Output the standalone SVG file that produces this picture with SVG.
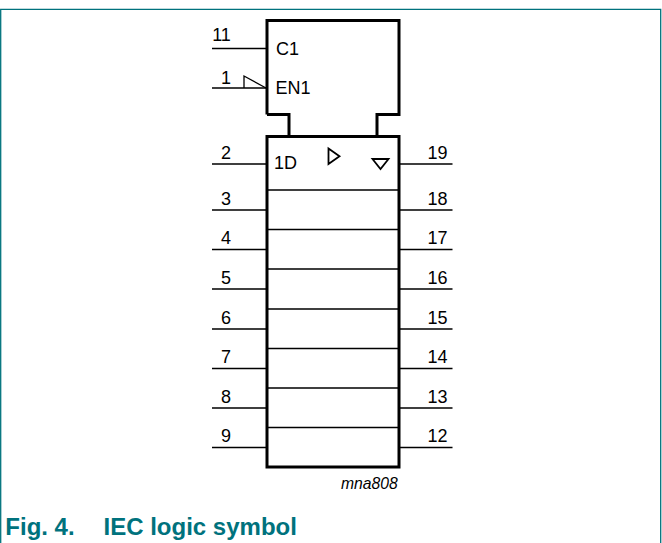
<svg xmlns="http://www.w3.org/2000/svg" width="662" height="543" viewBox="0 0 662 543">
<style>
text{font-family:"Liberation Sans",Arial,sans-serif;fill:#000;font-size:18px}
.b{fill:none;stroke:#000;stroke-width:3}
.t{fill:none;stroke:#000;stroke-width:1.3}
.a{fill:none;stroke:#000;stroke-width:1.8}
.p{stroke:#000;stroke-width:1.3;fill:none}
.w{stroke:#000;stroke-width:1.7;fill:none}
.r{text-anchor:middle}
.c{font-size:24px;font-weight:700;fill:#00727d}
</style>
<rect width="662" height="543" fill="#fff"/>
<path d="M.7 543V9.300H660.700V543" fill="none" stroke="#00727d" stroke-width="1.300"/>
<g id="control-block">
<path class="b" d="M267 114.500V20.500H399V114.500H377V136.500M267 114.500H289V136.500"/>
<text x="276" y="55">C1</text>
<text x="275.500" y="93.500">EN1</text>
<path class="t" d="M244 88V76L266 88"/>
</g>
<g id="register-block">
<rect class="b" x="267" y="136.500" width="132" height="330.500"/>
<path class="w" d="M267 190H399M267 229.500H399M267 269H399M267 309H399M267 348.500H399M267 388H399M267 427.500H399"/>
<text x="274" y="169">1D</text>
<path class="a" d="M328.500 148.500V164L339.500 156.300Z"/>
<path class="a" d="M372.500 159H388.500L380.500 169Z"/>
</g>
<g id="connectors">
<path class="p" d="M212 48.500H267M212 88H267M212 164H267M212 210H267M212 249.500H267M212 289H267M212 329H267M212 368.500H267M212 408H267M212 447.500H267"/>
<path class="p" d="M399 164H452.500M399 210H452.500M399 249.500H452.500M399 289H452.500M399 329H452.500M399 368.500H452.500M399 408H452.500M399 447.500H452.500"/>
</g>
<g id="pin-labels">
<text class="r" x="221.500" y="41">11</text>
<text class="r" x="226" y="84">1</text>
<text class="r" x="226" y="158.500">2</text>
<text class="r" x="226" y="204.500">3</text>
<text class="r" x="226" y="244">4</text>
<text class="r" x="226" y="284">5</text>
<text class="r" x="226" y="323.500">6</text>
<text class="r" x="226" y="363">7</text>
<text class="r" x="226" y="402.500">8</text>
<text class="r" x="226" y="441.700">9</text>
<text class="r" x="437.500" y="159">19</text>
<text class="r" x="437.500" y="205">18</text>
<text class="r" x="437.500" y="244">17</text>
<text class="r" x="437.500" y="284">16</text>
<text class="r" x="437.500" y="323.500">15</text>
<text class="r" x="437.500" y="363">14</text>
<text class="r" x="437.500" y="402.500">13</text>
<text class="r" x="437.500" y="441.700">12</text>
</g>
<text x="341" y="489" font-style="italic" style="font-size:15.700px">mna808</text>
<text class="c" x="5.300" y="535">Fig. 4.</text>
<text class="c" x="103.500" y="535">IEC logic symbol</text>
</svg>
